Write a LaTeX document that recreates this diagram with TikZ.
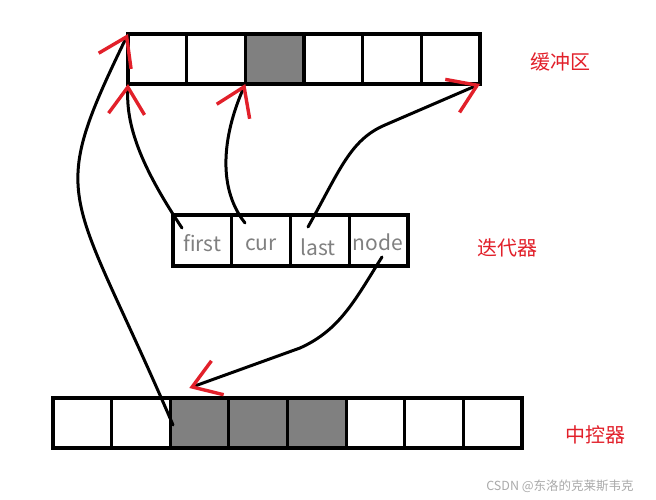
\documentclass[tikz,border=0pt]{standalone}
\usepackage{fontspec}
\newfontfamily\cjk{Noto Sans CJK SC}
\usetikzlibrary{arrows.meta,calc}
\definecolor{arrowred}{RGB}{226,32,42}
\definecolor{cellgray}{RGB}{128,128,128}
\definecolor{textgray}{RGB}{128,128,128}
\definecolor{markgray}{RGB}{170,170,170}
\tikzset{
  cellbox/.style={draw=black, line width=3.2pt, rectangle, inner sep=0pt, outer sep=0pt,
    minimum width=58.67pt, minimum height=50pt, fill=white},
  darkcell/.style={cellbox, fill=cellgray},
  celltext/.style={text=textgray, font=\cjk\fontsize{21}{21}\selectfont, inner sep=0pt},
  redlabel/.style={text=arrowred, font=\cjk\fontsize{20}{20}\selectfont, inner sep=0pt},
  pointer/.style={draw=black, line width=3pt, line cap=round,
    -{Straight Barb[color=arrowred, length=27pt, width=36pt, line width=3.4pt]}}
}
\begin{document}
\begin{tikzpicture}[x=1pt, y=-1pt]
\useasboundingbox[fill=white] (0,0) rectangle (656,500);
% buffer
\foreach \i in {1,2,4,5,6}{\node[cellbox] (b\i) at ({128+58.67*(\i-0.5)},59) {};}
\node[darkcell] (b3) at ({128+58.67*2.5},59) {};
% iterator
\foreach \i in {1,2,3,4}{\node[cellbox, minimum width=58.75pt, minimum height=51pt] (i\i) at ({173+58.75*(\i-0.5)},240.5) {};}
\node[celltext] (t1) at (202,243) {first};
\node[celltext] (t2) at (261,245) {cur};
\node[celltext] (t3) at (318,247) {last};
\node[celltext] (t4) at (378,242) {node};
% central controller
\foreach \i in {1,2,6,7,8}{\node[cellbox, minimum width=58.625pt] (c\i) at ({53+58.625*(\i-0.5)},423) {};}
\foreach \i in {3,4,5}{\node[darkcell, minimum width=58.625pt] (c\i) at ({53+58.625*(\i-0.5)},423) {};}
% labels
\node[redlabel] (lb) at (560,62) {缓冲区};
\node[redlabel] (li) at (507,248) {迭代器};
\node[redlabel] (lc) at (595,435) {中控器};
\node[text=markgray, font=\cjk\fontsize{12.5}{12.5}\selectfont, inner sep=0pt] (wm) at (560,486) {CSDN @东洛的克莱斯韦克};
% connector start points
\coordinate (s0) at (173,425);
\coordinate (s1) at (182,228);
\coordinate (s2) at (245,223);
\coordinate (s3) at (308,227);
\coordinate (s4) at (382,257);
\coordinate (e4) at ($(c3.north west)+(19,-10)$);
% connectors
\draw[pointer] (s0) .. controls (70,185) and (45,205) .. (b1.north west);
\draw[pointer] (s1) .. controls (140,165) and (126,125) .. (b1.south west);
\draw[pointer] (s2) .. controls (215,185) and (225,130) .. (b3.south west);
\draw[pointer] (s3) .. controls (340,170) and (350,140) .. (385,125) -- (b6.south east);
\draw[pointer] (s4) .. controls (355,300) and (340,330) .. (300,348) -- (e4);
\end{tikzpicture}
\end{document}
